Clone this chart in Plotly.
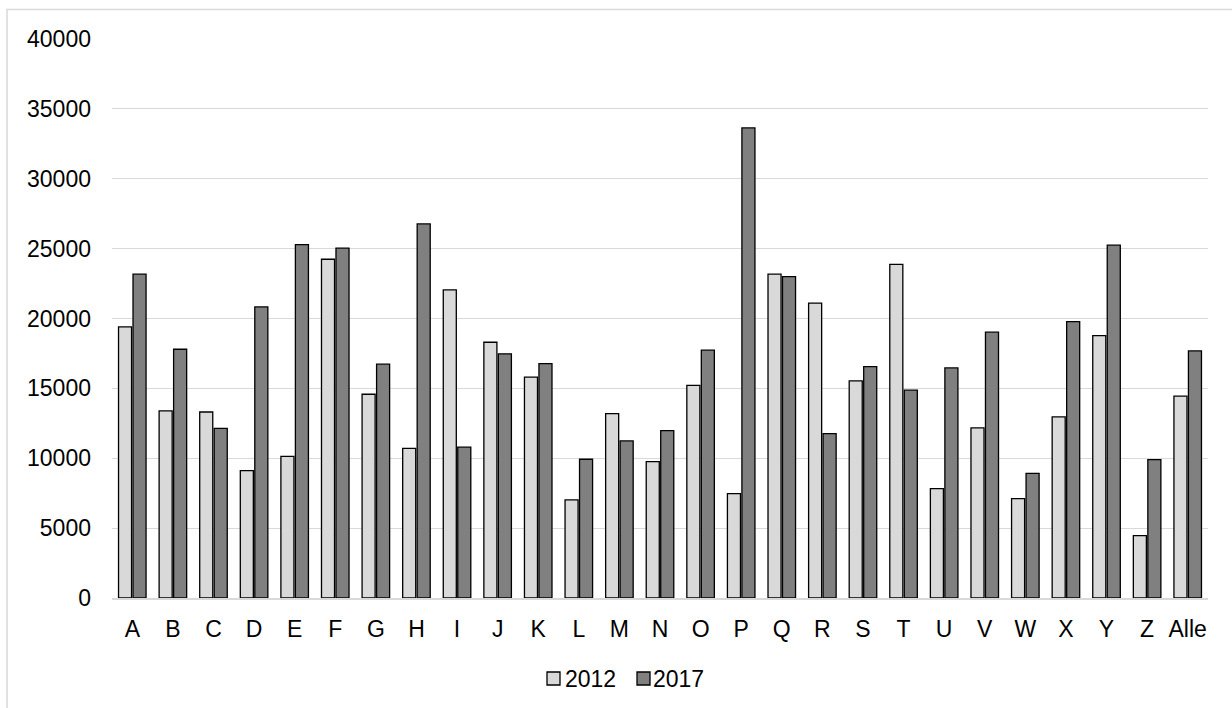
import plotly.graph_objects as go

# Categories and yearly values
categories = ["A", "B", "C", "D", "E", "F", "G", "H", "I", "J", "K", "L", "M",
              "N", "O", "P", "Q", "R", "S", "T", "U", "V", "W", "X", "Y", "Z", "Alle"]
values_2012 = [19400, 13390, 13310, 9110, 10140, 24240, 14580, 10710, 22050, 18300,
               15800, 7015, 13190, 9760, 15220, 7470, 23170, 21100, 15530, 23880,
               7830, 12170, 7110, 12960, 18780, 4460, 14440]
values_2017 = [23170, 17800, 12140, 20830, 25290, 25030, 16730, 26770, 10790, 17470,
               16770, 9930, 11240, 11980, 17730, 33640, 23000, 11760, 16560, 14870,
               16460, 19020, 8920, 19780, 25250, 9900, 17680]
y_ticks = [0, 5000, 10000, 15000, 20000, 25000, 30000, 35000, 40000]

series = [("2012", values_2012, "#d9d9d9"), ("2017", values_2017, "#808080")]

W, H = 1232, 708
L, R, T, B = 112, 24, 39, 110
FONT = "Liberation Sans, Arial, sans-serif"
plot_w = W - L - R
plot_h = H - T - B


def px_x(p):
    return (p - L) / plot_w


def px_y(p):
    return (H - B - p) / plot_h


fig = go.Figure()
for name, vals, color in series:
    fig.add_trace(go.Bar(
        name=name, x=categories, y=vals,
        marker=dict(color=color, line=dict(color="#000000", width=1.3)),
    ))

# light frame around the whole chart
fig.add_shape(
    type="rect", xref="paper", yref="paper",
    x0=px_x(7), x1=px_x(W + 10), y0=px_y(H + 10), y1=px_y(9.5),
    line=dict(color="#d9d9d9", width=1.5), fillcolor="rgba(0,0,0,0)", layer="below",
)

# legend: swatch squares followed closely by their labels
legend_items = [(547, 565), (637, 653)]
for (sq_left, txt_left), (name, _, color) in zip(legend_items, series):
    fig.add_shape(
        type="rect", xref="paper", yref="paper",
        x0=px_x(sq_left), x1=px_x(sq_left + 13), y0=px_y(685), y1=px_y(672),
        line=dict(color="#000000", width=1.3), fillcolor=color,
    )
    fig.add_annotation(
        xref="paper", yref="paper", x=px_x(txt_left - 2), y=px_y(678.5),
        xanchor="left", yanchor="middle", text=name, showarrow=False,
        font=dict(family=FONT, size=23, color="#000000"),
    )

fig.update_layout(
    width=W, height=H,
    margin=dict(l=L, r=R, t=T, b=B, pad=0),
    paper_bgcolor="white", plot_bgcolor="white",
    barmode="group", bargap=0.286, bargroupgap=0.1,
    font=dict(family=FONT, size=23, color="#000000"),
    showlegend=False,
)
fig.update_xaxes(
    showgrid=False, showline=True, linecolor="#d9d9d9", linewidth=1.5,
    ticks="", ticklabelstandoff=10, tickfont=dict(size=23),
)
fig.update_yaxes(
    range=[0, 40000], tickvals=y_ticks, ticktext=[str(v) for v in y_ticks],
    showgrid=True, gridcolor="#d9d9d9", gridwidth=1.3,
    zeroline=False, showline=False, ticks="", ticklabelstandoff=20,
    tickfont=dict(size=23),
)

fig.write_html("out.html")
